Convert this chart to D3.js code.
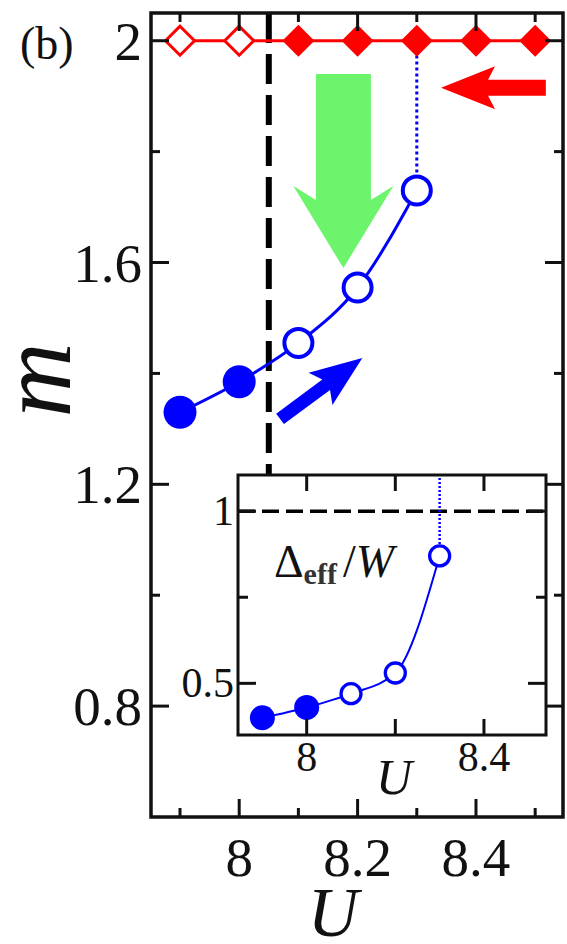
<!DOCTYPE html>
<html>
<head>
<meta charset="utf-8">
<script src="https://cdn.jsdelivr.net/npm/d3@7"></script>
<style>
  html, body { margin: 0; padding: 0; background: #fff; }
  svg { display: block; }
  text { font-family: "Liberation Serif", "DejaVu Serif", serif; fill: #111; }
</style>
</head>
<body>
<script>
// ---- data ----
const U = [7.9, 8.0, 8.1, 8.2, 8.3];
const mValues = [1.33, 1.385, 1.455, 1.555, 1.73];
const mFilled = [true, true, false, false, false];
const diamondU = [7.9, 8.0, 8.1, 8.2, 8.3, 8.4, 8.5];
const diamondM = [2, 2, 2, 2, 2, 2, 2];
const diamondFilled = [false, false, true, true, true, true, true];
const gapRatio = [0.40, 0.43, 0.47, 0.53, 0.87];   // inset: Delta_eff / W
const Uc = 8.05;                                   // vertical dashed boundary
const mainXTicks = [8.0, 8.2, 8.4];
const mainXTickLabels = ["8", "8.2", "8.4"];
const mainXMinor = [7.9, 8.1, 8.3, 8.5];
const mainYTicks = [0.8, 1.2, 1.6, 2.0];
const mainYTickLabels = ["0.8", "1.2", "1.6", "2"];
const mainYMinor = [1.0, 1.4, 1.8];
const insetXTicks = [8.0, 8.2, 8.4];
const insetXTickLabels = ["8", "", "8.4"];
const insetYTicks = [0.5, 1.0];
const insetYTickLabels = ["0.5", "1"];
const insetYMinor = [0.75];

const W = 567, H = 944;
const svg = d3.select("body").append("svg").attr("width", W).attr("height", H);

// ---- main panel ----
const x = d3.scaleLinear().domain([7.851, 8.547]).range([151, 563]);
const y = d3.scaleLinear().domain([0.6, 2.05]).range([817, 13]);
const [x0, x1] = x.range(), [y1, y0] = y.range();

const BLUE = "#0000ff", RED = "#ff0000", GREEN = "#6cf46c";

// arrow polygon from tail to tip
function arrowPath(p0, p1, sw, hw, hl, sweep) {
  const dx = p1[0] - p0[0], dy = p1[1] - p0[1];
  const L = Math.hypot(dx, dy), ux = dx / L, uy = dy / L, nx = -uy, ny = ux;
  const pt = (along, side) => [p1[0] - ux * along + nx * side, p1[1] - uy * along + ny * side];
  const pts = [
    [p0[0] + nx * sw / 2, p0[1] + ny * sw / 2],
    pt(hl, sw / 2), pt(hl + sweep, hw / 2), p1,
    pt(hl + sweep, -hw / 2), pt(hl, -sw / 2),
    [p0[0] - nx * sw / 2, p0[1] - ny * sw / 2]
  ];
  return d3.line()(pts) + "Z";
}

// vertical dashed boundary line at Uc (drawn down to the inset top)
svg.append("line")
  .attr("x1", x(Uc)).attr("x2", x(Uc)).attr("y1", y0).attr("y2", 477)
  .attr("stroke", "#000").attr("stroke-width", 6).attr("stroke-dasharray", "30,11");

// red line with diamonds
svg.append("path")
  .attr("d", d3.line().x(d => x(d[0])).y(d => y(d[1]))(diamondU.map((u, i) => [u, diamondM[i]])))
  .attr("fill", "none").attr("stroke", RED).attr("stroke-width", 3);

// blue dotted drop from last point up to m=2
svg.append("line")
  .attr("x1", x(U[4])).attr("x2", x(U[4])).attr("y1", y(mValues[4])).attr("y2", y(2))
  .attr("stroke", BLUE).attr("stroke-width", 3).attr("stroke-dasharray", "3,3");

// arrows
svg.append("path")
  .attr("d", arrowPath([x(8.176), y(1.94)], [x(8.176), y(1.59)], 55, 100, 68, 14))
  .attr("fill", GREEN);
svg.append("path")
  .attr("d", arrowPath([x(8.518), y(1.915)], [x(8.341), y(1.915)], 16, 43, 47, 7))
  .attr("fill", RED);
svg.append("path")
  .attr("d", arrowPath([x(8.069), y(1.318)], [x(8.208), y(1.428)], 13, 40, 45, 7))
  .attr("fill", BLUE);

// blue curve m(U)
const mPts = U.map((u, i) => [u, mValues[i]]);
svg.append("path")
  .attr("d", d3.line().x(d => x(d[0])).y(d => y(d[1])).curve(d3.curveMonotoneX)(mPts))
  .attr("fill", "none").attr("stroke", BLUE).attr("stroke-width", 3);

svg.selectAll("circle.m").data(mPts).join("circle")
  .attr("class", "m")
  .attr("cx", d => x(d[0])).attr("cy", d => y(d[1]))
  .attr("r", (d, i) => mFilled[i] ? 16.5 : 14)
  .attr("fill", (d, i) => mFilled[i] ? BLUE : "#fff")
  .attr("stroke", BLUE).attr("stroke-width", (d, i) => mFilled[i] ? 0 : 4);

// diamonds
const dsz = 16;
svg.selectAll("path.dia").data(diamondU.map((u, i) => [u, diamondM[i]])).join("path")
  .attr("class", "dia")
  .attr("transform", d => `translate(${x(d[0])},${y(d[1])})`)
  .attr("d", (d, i) => diamondFilled[i]
    ? `M0,${-dsz}L${dsz},0L0,${dsz}L${-dsz},0Z`
    : `M0,${-dsz + 1.5}L${dsz - 1.5},0L0,${dsz - 1.5}L${-dsz + 1.5},0Z`)
  .attr("fill", (d, i) => diamondFilled[i] ? RED : "#fff")
  .attr("stroke", RED).attr("stroke-width", (d, i) => diamondFilled[i] ? 0 : 3);

// main frame and ticks
const axisG = svg.append("g").attr("stroke", "#111").attr("stroke-width", 3);
function tickSet(vals, len, orient) {
  vals.forEach(v => {
    if (orient === "x") {
      axisG.append("line").attr("x1", x(v)).attr("x2", x(v)).attr("y1", y1).attr("y2", y1 - len);
      axisG.append("line").attr("x1", x(v)).attr("x2", x(v)).attr("y1", y0).attr("y2", y0 + len);
    } else {
      axisG.append("line").attr("y1", y(v)).attr("y2", y(v)).attr("x1", x0).attr("x2", x0 + len);
      axisG.append("line").attr("y1", y(v)).attr("y2", y(v)).attr("x1", x1).attr("x2", x1 - len);
    }
  });
}
tickSet(mainXTicks, 18, "x");
tickSet(mainXMinor, 9, "x");
tickSet(mainYTicks, 18, "y");
tickSet(mainYMinor, 9, "y");
svg.append("rect")
  .attr("x", x0).attr("y", y0).attr("width", x1 - x0).attr("height", y1 - y0)
  .attr("fill", "none").attr("stroke", "#111").attr("stroke-width", 3.5);

// tick labels
svg.selectAll("text.xt").data(mainXTicks).join("text")
  .attr("class", "xt").attr("x", d => x(d)).attr("y", 876)
  .attr("text-anchor", "middle").attr("font-size", 55)
  .text((d, i) => mainXTickLabels[i]);
svg.selectAll("text.yt").data(mainYTicks).join("text")
  .attr("class", "yt").attr("x", 142).attr("y", d => y(d) + 19)
  .attr("text-anchor", "end").attr("font-size", 55)
  .text((d, i) => mainYTickLabels[i]);

// axis titles and panel tag
svg.append("text").attr("x", 333).attr("y", 936).attr("text-anchor", "middle")
  .attr("font-size", 70).attr("font-style", "italic").text("U");
svg.append("text").attr("transform", "translate(70,380) rotate(-90)")
  .attr("text-anchor", "middle").attr("font-size", 104).attr("font-style", "italic").text("m");
svg.append("text").attr("x", 20).attr("y", 59).attr("font-size", 46).text("(b)");

// ---- inset ----
const ix = d3.scaleLinear().domain([7.845, 8.54]).range([238, 546]);
const iy = d3.scaleLinear().domain([0.35, 1.105]).range([735, 475]);
const [ix0, ix1] = ix.range(), [iy1, iy0] = iy.range();

svg.append("rect").attr("x", ix0).attr("y", iy0).attr("width", ix1 - ix0).attr("height", iy1 - iy0)
  .attr("fill", "#fff");

// horizontal dashed line at 1
svg.append("line").attr("x1", ix0).attr("x2", ix1).attr("y1", iy(1)).attr("y2", iy(1))
  .attr("stroke", "#000").attr("stroke-width", 3.5).attr("stroke-dasharray", "17,7");

// dotted line from last point up to the inset top
svg.append("line")
  .attr("x1", ix(U[4])).attr("x2", ix(U[4])).attr("y1", iy(gapRatio[4])).attr("y2", iy0)
  .attr("stroke", BLUE).attr("stroke-width", 2.5).attr("stroke-dasharray", "2,2");

const gPts = U.map((u, i) => [u, gapRatio[i]]);
svg.append("path")
  .attr("d", d3.line().x(d => ix(d[0])).y(d => iy(d[1])).curve(d3.curveMonotoneX)(gPts))
  .attr("fill", "none").attr("stroke", BLUE).attr("stroke-width", 2);
svg.selectAll("circle.g").data(gPts).join("circle")
  .attr("class", "g")
  .attr("cx", d => ix(d[0])).attr("cy", d => iy(d[1]))
  .attr("r", (d, i) => mFilled[i] ? 12.5 : 10)
  .attr("fill", (d, i) => mFilled[i] ? BLUE : "#fff")
  .attr("stroke", BLUE).attr("stroke-width", (d, i) => mFilled[i] ? 0 : 3.3);

const iAxis = svg.append("g").attr("stroke", "#111").attr("stroke-width", 3);
insetXTicks.forEach(v => {
  iAxis.append("line").attr("x1", ix(v)).attr("x2", ix(v)).attr("y1", iy1).attr("y2", iy1 - 16);
  iAxis.append("line").attr("x1", ix(v)).attr("x2", ix(v)).attr("y1", iy0).attr("y2", iy0 + 16);
});
insetYTicks.forEach(v => {
  iAxis.append("line").attr("y1", iy(v)).attr("y2", iy(v)).attr("x1", ix0).attr("x2", ix0 + 18);
  iAxis.append("line").attr("y1", iy(v)).attr("y2", iy(v)).attr("x1", ix1).attr("x2", ix1 - 18);
});
insetYMinor.forEach(v => {
  iAxis.append("line").attr("y1", iy(v)).attr("y2", iy(v)).attr("x1", ix0).attr("x2", ix0 + 10);
  iAxis.append("line").attr("y1", iy(v)).attr("y2", iy(v)).attr("x1", ix1).attr("x2", ix1 - 10);
});
svg.append("rect").attr("x", ix0).attr("y", iy0).attr("width", ix1 - ix0).attr("height", iy1 - iy0)
  .attr("fill", "none").attr("stroke", "#111").attr("stroke-width", 3);

svg.selectAll("text.ixt").data(insetXTicks).join("text")
  .attr("class", "ixt").attr("x", d => ix(d)).attr("y", 771)
  .attr("text-anchor", "middle").attr("font-size", 42)
  .text((d, i) => insetXTickLabels[i]);
svg.selectAll("text.iyt").data(insetYTicks).join("text")
  .attr("class", "iyt").attr("x", 234).attr("y", d => iy(d) + 14)
  .attr("text-anchor", "end").attr("font-size", 42)
  .text((d, i) => insetYTickLabels[i]);
svg.append("text").attr("x", 394).attr("y", 794).attr("text-anchor", "middle")
  .attr("font-size", 50).attr("font-style", "italic").text("U");

const lbl = svg.append("text").attr("x", 274).attr("y", 577).attr("font-size", 46);
lbl.append("tspan").text("Δ");
lbl.append("tspan").attr("font-size", 30).attr("font-weight", "bold").attr("fill", "#333").attr("dy", 7).text("eff");
lbl.append("tspan").attr("dy", -7).attr("dx", 6).text("/");
lbl.append("tspan").attr("font-style", "italic").text("W");
</script>
</body>
</html>
